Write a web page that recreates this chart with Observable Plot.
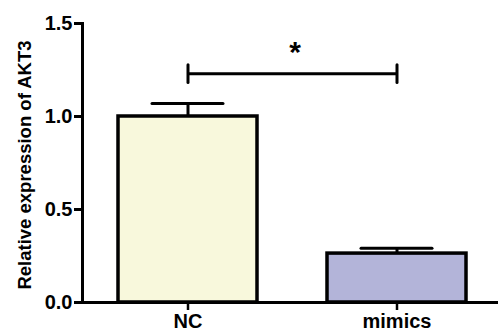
<!DOCTYPE html>
<html>
<head>
<meta charset="utf-8">
<script src="https://cdn.jsdelivr.net/npm/d3@7"></script>
<script src="https://cdn.jsdelivr.net/npm/@observablehq/plot@0.6"></script>
<style>
  html, body { margin: 0; padding: 0; background: #fff; }
</style>
</head>
<body>
<div id="chart"></div>
<script>
// Data
const groups = ["NC", "mimics"];
const means = [1.0, 0.263];
const errHigh = [1.07, 0.292];
const fills = ["#f8f8dc", "#b3b4d9"];
const yTicks = [0, 0.5, 1.0, 1.5];
const yLabel = "Relative expression of AKT3";
const sigLabel = "*";
const bracketY = 1.23;
const bracketEndLow = 1.18;
const bracketEndHigh = 1.275;
const starY = 1.345;

const rows = groups.map((g, i) => ({group: g, value: means[i], hi: errHigh[i], fill: fills[i]}));
const font = "'Liberation Sans', Arial, Helvetica, sans-serif";

const chart = Plot.plot({
  width: 498,
  height: 334,
  marginLeft: 82,
  marginRight: 0,
  marginTop: 23,
  marginBottom: 32,
  style: {fontFamily: font, fontWeight: "bold", fontSize: "18px", color: "black", background: "white"},
  x: {domain: groups, paddingInner: 0.333, paddingOuter: 0.157, align: 0.53, label: null},
  y: {domain: [0, 1.5], label: null},
  marks: [
    Plot.barY(rows, {x: "group", y: "value", fill: "fill", stroke: "black", strokeWidth: 3.5}),
    Plot.ruleX(rows, {x: "group", y1: "value", y2: "hi", stroke: "black", strokeWidth: 3}),
    Plot.tickY(rows, {x: "group", y: "hi", stroke: "black", strokeWidth: 3, insetLeft: 34, insetRight: 34, strokeLinecap: "round"}),
    Plot.link([{a: groups[0], b: groups[1], y: bracketY}], {x1: "a", x2: "b", y1: "y", y2: "y", stroke: "black", strokeWidth: 3}),
    Plot.ruleX(groups, {x: d => d, y1: bracketEndLow, y2: bracketEndHigh, stroke: "black", strokeWidth: 3, strokeLinecap: "round"}),
    Plot.text([sigLabel], {x: () => groups[0], y: () => starY, text: d => d, dx: 107, fontSize: 30, fontWeight: "bold", lineAnchor: "middle"}),
    Plot.ruleY([0], {stroke: "black", strokeWidth: 3}),
    Plot.frame({anchor: "left", stroke: "black", strokeWidth: 3}),
    Plot.axisY({ticks: yTicks, tickFormat: d => d.toFixed(1), tickSize: 8, tickPadding: 2, strokeWidth: 3, fontSize: 20, fontWeight: "bold", label: null}),
    Plot.axisX({tickSize: 8, tickPadding: 3, strokeWidth: 2.5, fontSize: 20, fontWeight: "bold", label: null}),
    Plot.text([yLabel], {frameAnchor: "left", text: d => d, rotate: -90, dx: -57, dy: 2, fontSize: 18.5, fontWeight: "bold", textAnchor: "middle"})
  ]
});
document.getElementById("chart").appendChild(chart);
</script>
</body>
</html>
